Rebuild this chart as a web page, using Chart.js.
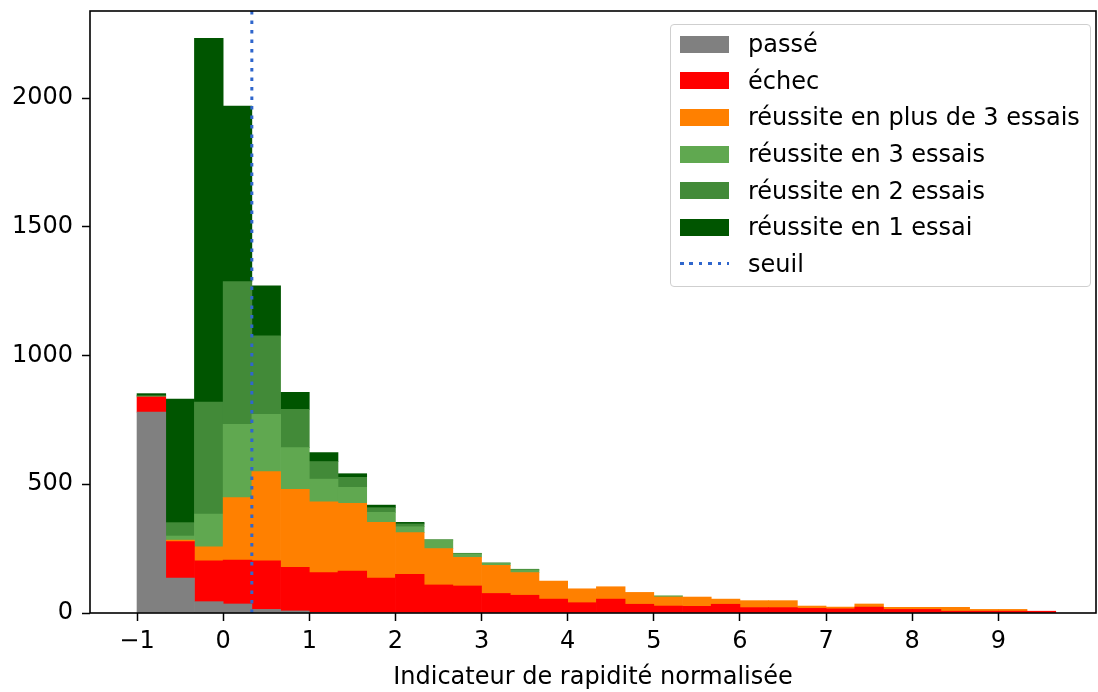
<!DOCTYPE html>
<html><head><meta charset="utf-8">
<script src="https://cdn.jsdelivr.net/npm/chart.js@4.4.0/dist/chart.umd.min.js"></script>
<style>
html,body{margin:0;padding:0;background:#fff;}
#wrap{position:relative;width:1098px;height:692px;}
#c{position:absolute;left:0;top:0;}
#legend{position:absolute;left:670px;top:24px;width:421px;height:263px;border:1px solid #cfcfcf;border-radius:4px;background:rgba(255,255,255,0.8);box-sizing:border-box;font-family:'DejaVu Sans';font-size:24px;color:#000;}
.row{position:absolute;left:0;height:36px;display:flex;align-items:center;white-space:nowrap;}
.sw{width:49px;height:17px;margin-left:9px;margin-right:19px;flex:none;}
</style>
</head><body>
<div id="wrap">
<canvas id="c" width="1098" height="692"></canvas>
<div id="legend"></div>
</div>
<script>
// Histogram bins: 32 bins of width 1/3 starting at -1
const binStart = -1;
const binWidth = 1 / 3;
const seuil = 0.333;
const xTicks = [-1, 0, 1, 2, 3, 4, 5, 6, 7, 8, 9];
const yTicks = [0, 500, 1000, 1500, 2000];

const passe  = [780,136,44,35,14,8,2,0,0,0,0,0,0,0,0,0,0,0,0,0,0,0,0,0,0,0,0,0,0,0,0,0];
const echec  = [59,141,159,171,189,169,155,163,136,150,109,105,76,69,54,40,54,34,27,26,34,21,21,18,16,23,14,14,7,7,7,7];
const plus3  = [0,6,54,242,346,303,275,263,216,162,141,111,109,88,70,54,48,46,35,36,20,27,27,9,7,12,8,8,15,7,7,0];
const essai3 = [2,16,127,285,223,162,88,62,39,23,33,13,8,10,0,0,0,0,5,0,0,0,0,0,0,0,0,0,0,0,0,0];
const essai2 = [3,52,435,554,304,149,68,39,18,11,2,3,2,3,0,0,0,0,0,0,0,0,0,0,0,0,0,0,0,0,0,0];
const essai1 = [8,480,1413,682,195,66,35,14,10,6,0,0,0,0,0,0,0,0,0,0,0,0,0,0,0,0,0,0,0,0,0,0];

const seriesNames = ['passé','échec','réussite en plus de 3 essais','réussite en 3 essais','réussite en 2 essais','réussite en 1 essai'];
const seriesColors = ['#808080','#ff0000','#ff8000','#60a850','#428a38','#005500'];
const seriesData = [passe, echec, plus3, essai3, essai2, essai1];
const seuilName = 'seuil';
const seuilColor = '#2f66cc';

const xMin = -1.546, xMax = 10.134, yMax = 2338;

const centers = passe.map((_, i) => binStart + (i + 0.5) * binWidth);

const datasets = seriesData.map((arr, k) => ({
  type: 'bar',
  label: seriesNames[k],
  data: arr.map((v, i) => ({x: centers[i], y: v === 0 ? null : v})),
  backgroundColor: seriesColors[k],
  borderWidth: 0,
  barPercentage: 1,
  categoryPercentage: 1,
  order: 1
}));
datasets.push({
  type: 'line',
  label: seuilName,
  data: [{x: seuil, y: 0}, {x: seuil, y: yMax}],
  borderColor: seuilColor,
  borderWidth: 3,
  borderDash: [3.5, 6],
  pointRadius: 0,
  fill: false,
  stack: 'seuil',
  order: 0
});

Chart.defaults.font.family = "'DejaVu Sans', sans-serif";
Chart.defaults.font.size = 24;
Chart.defaults.color = '#000';

const frame = {
  id: 'frame',
  afterDraw(chart) {
    const {ctx, chartArea: a} = chart;
    ctx.save();
    ctx.strokeStyle = '#000';
    ctx.lineWidth = 1.6;
    ctx.strokeRect(a.left, a.top, a.right - a.left, a.bottom - a.top);
    ctx.restore();
  }
};

new Chart(document.getElementById('c'), {
  type: 'bar',
  data: {datasets},
  options: {
    responsive: false,
    animation: false,
    layout: {padding: {top: 11, right: 2, left: 0, bottom: 0}},
    plugins: {legend: {display: false}, tooltip: {enabled: false}},
    scales: {
      x: {
        type: 'linear',
        stacked: true,
        offset: false,
        min: xMin, max: xMax,
        afterBuildTicks: (s) => { s.ticks = xTicks.map(v => ({value: v})); },
        afterFit: (s) => { s.height = 79; s.paddingLeft = 0; s.paddingRight = 0; },
        grid: {display: true, drawOnChartArea: false, drawTicks: true, tickLength: 8, tickWidth: 1.5, tickColor: '#000', offset: false},
        border: {display: false},
        ticks: {padding: 6, maxRotation: 0, autoSkip: false,
          callback: (v) => v < 0 ? '\u2212' + Math.abs(v) : String(v)},
        title: {display: true, text: 'Indicateur de rapidité normalisée', padding: {top: 0, bottom: 0}, font: {size: 24}}
      },
      y: {
        type: 'linear',
        stacked: true,
        min: 0, max: yMax,
        afterBuildTicks: (s) => { s.ticks = yTicks.map(v => ({value: v})); },
        afterFit: (s) => { s.width = 90; s.paddingTop = 0; s.paddingBottom = 0; },
        grid: {display: true, drawOnChartArea: false, drawTicks: true, tickLength: 8, tickWidth: 1.5, tickColor: '#000'},
        border: {display: false},
        ticks: {padding: 9, callback: (v) => String(v)}
      }
    }
  },
  plugins: [frame]
});

// legend
const lg = document.getElementById('legend');
const names = seriesNames.concat([seuilName]);
names.forEach((n, i) => {
  const row = document.createElement('div');
  row.className = 'row';
  row.style.top = (1.3 + 36.57 * i) + 'px';
  const sw = document.createElement('div');
  sw.className = 'sw';
  if (i < seriesNames.length) {
    sw.style.background = seriesColors[i];
  } else {
    sw.style.height = '3px';
    sw.style.background = 'repeating-linear-gradient(to right,' + seuilColor + ' 0 3.5px, transparent 3.5px 9.5px)';
  }
  const t = document.createElement('span');
  t.textContent = n;
  row.appendChild(sw);
  row.appendChild(t);
  lg.appendChild(row);
});
</script>
</body></html>
